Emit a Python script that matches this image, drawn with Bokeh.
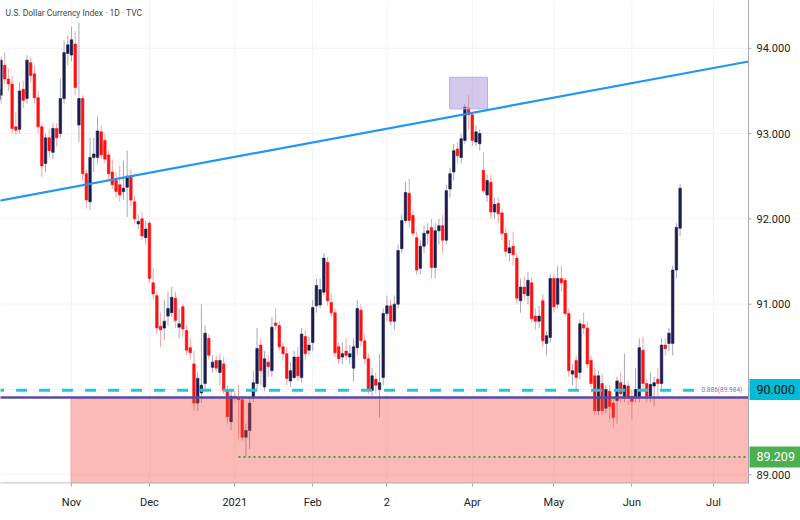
import pandas as pd
from bokeh.plotting import figure
from bokeh.models import Range1d, FixedTicker, ColumnDataSource, Label
from bokeh.core.properties import value
from bokeh.embed import file_html
from bokeh.resources import INLINE

# ---------------- data ----------------
dates = pd.bdate_range("2020-10-05", "2021-06-18")

opens = [93.40, 93.45, 93.80, 93.64, 93.58, 93.08, 93.05, 93.52, 93.41, 93.83,
         93.70, 93.42, 93.08, 92.65, 92.95, 92.78, 93.06, 93.00, 93.41, 93.94,
         93.92, 94.05, 93.10, 93.41, 92.53, 92.20, 92.72, 92.72, 93.02, 92.92,
         92.75, 92.55, 92.45, 92.40, 92.32, 92.37, 92.50, 92.20, 91.94, 92.00,
         91.78, 91.95, 91.25, 91.10, 90.74, 90.72, 90.86, 90.90, 91.07, 90.73,
         90.97, 90.69, 90.49, 90.30, 89.84, 89.96, 90.07, 90.60, 90.26, 90.34,
         90.20, 90.30, 89.98, 89.62, 89.92, 89.90, 89.88, 89.44, 89.52, 89.90,
         90.07, 90.52, 90.03, 90.32, 90.22, 90.78, 90.75, 90.50, 90.42, 90.10,
         90.14, 90.38, 90.14, 90.62, 90.46, 90.55, 90.98, 90.99, 91.14, 91.49,
         91.02, 90.90, 90.50, 90.38, 90.45, 90.38, 90.25, 90.49, 90.93, 90.57,
         90.36, 89.99, 90.12, 90.00, 90.14, 90.89, 90.98, 90.80, 91.00, 91.65,
         91.98, 92.30, 92.04, 91.78, 91.42, 91.68, 91.83, 91.90, 91.43, 91.86,
         91.92, 91.75, 92.35, 92.55, 92.82, 92.72, 92.92, 93.30, 93.22, 92.90,
         92.88, 92.57, 92.28, 92.43, 92.08, 92.18, 92.07, 91.83, 91.60, 91.68,
         91.54, 91.04, 91.20, 91.10, 91.25, 90.86, 90.80, 91.04, 90.54, 90.61,
         91.30, 91.00, 91.30, 91.28, 90.89, 90.18, 90.34, 90.20, 90.76, 90.72,
         90.34, 90.16, 89.75, 90.07, 89.78, 89.98, 89.84, 89.87, 90.08, 89.90,
         90.04, 89.92, 89.90, 89.91, 90.46, 90.07, 89.92, 90.04, 90.12, 90.07,
         90.52, 90.54, 90.54, 91.40, 91.89]

highs = [93.62, 93.90, 93.95, 93.76, 93.68, 93.25, 93.60, 93.62, 93.92, 93.90,
         93.80, 93.50, 93.12, 93.00, 93.05, 93.12, 93.12, 93.65, 94.09, 94.15,
         94.25, 94.20, 94.30, 93.45, 92.58, 92.95, 92.95, 93.20, 93.10, 93.00,
         92.80, 92.70, 92.55, 92.62, 92.68, 92.80, 92.58, 92.28, 92.05, 92.08,
         91.98, 91.98, 91.42, 91.15, 90.90, 91.05, 91.15, 91.20, 91.15, 90.95,
         91.00, 90.75, 90.60, 90.45, 90.20, 91.00, 90.75, 90.65, 90.40, 90.40,
         90.42, 90.38, 90.05, 89.98, 89.98, 90.05, 89.92, 89.60, 89.90, 90.22,
         90.72, 90.60, 90.45, 90.40, 90.85, 90.95, 90.80, 90.55, 90.50, 90.32,
         90.45, 90.50, 90.72, 90.70, 90.62, 91.05, 91.30, 91.30, 91.60, 91.55,
         91.12, 90.95, 90.55, 90.55, 90.60, 90.52, 90.60, 91.05, 91.00, 90.65,
         90.42, 90.25, 90.20, 90.42, 90.95, 91.10, 91.05, 91.10, 91.70, 92.05,
         92.43, 92.47, 92.10, 91.85, 91.75, 91.92, 91.95, 92.00, 91.95, 92.00,
         92.05, 92.40, 92.60, 92.88, 92.90, 93.00, 93.35, 93.45, 93.25, 93.10,
         93.05, 92.78, 92.52, 92.52, 92.25, 92.25, 92.12, 91.90, 91.75, 91.85,
         91.60, 91.30, 91.32, 91.38, 91.32, 90.95, 90.98, 91.12, 90.68, 91.35,
         91.35, 91.45, 91.45, 91.32, 90.95, 90.30, 90.40, 90.82, 90.90, 90.80,
         90.40, 90.25, 90.22, 90.18, 90.05, 90.05, 89.90, 90.15, 90.20, 90.42,
         90.10, 90.00, 90.25, 90.60, 90.62, 90.12, 90.20, 90.15, 90.25, 90.60,
         90.60, 90.72, 91.45, 91.95, 92.41]

lows = [93.35, 93.35, 93.58, 93.50, 93.00, 92.98, 93.00, 93.30, 93.35, 93.60,
        93.35, 93.00, 92.49, 92.55, 92.72, 92.70, 92.85, 92.95, 93.35, 93.80,
        93.85, 93.45, 92.90, 92.45, 92.12, 92.10, 92.55, 92.65, 92.70, 92.65,
        92.45, 92.35, 92.25, 92.20, 92.22, 92.02, 92.15, 91.95, 91.88, 91.75,
        91.70, 91.25, 91.05, 90.65, 90.50, 90.58, 90.75, 90.85, 90.72, 90.60,
        90.62, 90.40, 90.35, 89.75, 89.75, 89.84, 90.00, 90.35, 90.20, 90.20,
        90.05, 89.95, 89.60, 89.52, 89.85, 89.42, 89.40, 89.209, 89.30, 89.85,
        90.00, 90.05, 89.98, 90.15, 90.15, 90.70, 90.45, 90.35, 90.05, 90.03,
        90.12, 90.10, 90.08, 90.35, 90.40, 90.45, 90.90, 90.95, 91.10, 90.98,
        90.85, 90.38, 90.30, 90.30, 90.35, 90.30, 90.10, 90.40, 90.50, 90.30,
        89.95, 89.92, 89.95, 89.67, 90.05, 90.80, 90.75, 90.70, 90.95, 91.60,
        91.95, 91.90, 91.80, 91.35, 91.35, 91.60, 91.70, 91.30, 91.30, 91.70,
        91.60, 91.70, 92.25, 92.45, 92.65, 92.65, 92.88, 93.05, 92.85, 92.85,
        92.80, 92.30, 92.20, 92.00, 92.00, 91.95, 91.75, 91.55, 91.50, 91.45,
        91.00, 90.90, 91.05, 91.00, 90.78, 90.70, 90.72, 90.50, 90.40, 90.55,
        90.90, 90.95, 91.15, 90.85, 90.15, 90.05, 90.00, 90.12, 90.65, 90.25,
        90.02, 89.70, 89.70, 89.70, 89.72, 89.65, 89.55, 89.60, 89.85, 89.85,
        89.82, 89.65, 89.85, 89.85, 90.00, 89.85, 89.85, 89.80, 89.92, 90.00,
        90.40, 90.45, 90.40, 91.30, 91.80]

closes = [93.52, 93.86, 93.64, 93.58, 93.06, 93.04, 93.50, 93.39, 93.86, 93.68,
          93.42, 93.08, 92.62, 92.95, 92.80, 93.06, 92.95, 93.41, 93.95, 94.04,
          94.10, 93.54, 93.41, 92.53, 92.22, 92.72, 92.76, 93.03, 92.75, 92.70,
          92.53, 92.40, 92.32, 92.28, 92.36, 92.50, 92.22, 92.00, 91.97, 91.80,
          91.88, 91.30, 91.12, 90.72, 90.70, 90.80, 90.95, 91.08, 90.81, 90.77,
          90.71, 90.46, 90.43, 89.84, 90.13, 90.05, 90.66, 90.40, 90.32, 90.25,
          90.34, 89.99, 89.68, 89.92, 89.90, 89.88, 89.44, 89.52, 89.84, 90.08,
          90.48, 90.22, 90.36, 90.27, 90.73, 90.75, 90.50, 90.42, 90.13, 90.22,
          90.38, 90.16, 90.65, 90.42, 90.52, 90.96, 91.22, 91.17, 91.54, 91.04,
          90.90, 90.43, 90.36, 90.42, 90.40, 90.42, 90.50, 90.95, 90.57, 90.36,
          89.99, 90.16, 90.05, 90.08, 90.89, 90.98, 90.80, 91.00, 91.63, 91.98,
          92.31, 91.98, 91.83, 91.40, 91.68, 91.83, 91.86, 91.43, 91.86, 91.92,
          91.75, 92.33, 92.53, 92.80, 92.74, 92.94, 93.31, 93.22, 92.92, 93.02,
          93.00, 92.33, 92.45, 92.08, 92.17, 92.06, 91.83, 91.62, 91.66, 91.58,
          91.07, 91.20, 91.12, 91.28, 90.83, 90.80, 90.86, 90.57, 90.63, 91.30,
          90.97, 91.30, 91.25, 90.89, 90.22, 90.22, 90.14, 90.77, 90.72, 90.30,
          90.07, 89.75, 90.16, 89.75, 90.00, 89.80, 89.67, 90.10, 89.95, 90.05,
          89.90, 89.86, 90.00, 90.49, 90.07, 89.92, 90.06, 90.08, 90.07, 90.52,
          90.48, 90.66, 91.40, 91.90, 92.36]

month_labels = ["Nov", "Dec", "2021", "Feb", "2", "Apr", "May", "Jun", "Jul"]
month_starts = ["2020-11-02", "2020-12-01", "2021-01-01", "2021-02-01", "2021-03-01",
                "2021-04-01", "2021-05-03", "2021-06-01", "2021-07-01"]
price_ticks = [89, 90, 91, 92, 93, 94]

# drawn levels / annotations (prices and bar indexes)
support_level = 89.906     # purple line / top of pink zone
fib_level = 89.99          # cyan dashed
fib_text = "0.886(89.984)"
low_level = 89.209         # green dotted
zone_start = 19.7
low_start = 65
trend_gradient = 0.00808   # blue trend line, price per bar
trend_intercept = 92.209
top_box = dict(left=121.9, right=132.1, bottom=93.29, top=93.66)
last_price = 90.000
tag_prices = [last_price, low_level]
tag_texts = ["90.000", "89.209"]
tag_fill = ["#00bcd4", "#4caf50"]
tag_text_color = ["#111111", "#ffffff"]

# ---------------- figure ----------------
all_days = pd.bdate_range("2020-10-05", "2021-07-02")
tick_idx = [int(all_days.get_loc(pd.Timestamp(d))) for d in month_starts]

PXX = 3.711          # pixels per bar
PXY = 85.30          # pixels per index point
X0 = 0.867
X1 = X0 + 800 / PXX
Y1 = 94.56
Y0 = Y1 - 483 / PXY

def sx(px):
    return X0 + px / PXX

def sy(py):
    return Y1 - py / PXY

SEP = sx(748)          # price-scale separator
FONT = "Roboto"
AXC = "#a9abb3"

p = figure(width=800, height=520, x_range=Range1d(X0, X1), y_range=Range1d(Y0, Y1),
           output_backend="svg", toolbar_location=None,
           x_axis_location="below", y_axis_location=None,
           min_border_left=0, min_border_top=0, min_border_right=0, min_border_bottom=37)
p.outline_line_color = None
p.background_fill_color = "white"
p.border_fill_color = "white"
p.grid.visible = False

p.xaxis.ticker = FixedTicker(ticks=tick_idx)
p.xaxis.major_label_overrides = {t: l for t, l in zip(tick_idx, month_labels)}
p.xaxis.major_label_text_font = FONT
p.xaxis.major_label_text_font_size = "11px"
p.xaxis.major_label_text_color = "#222222"
p.xaxis.major_tick_out = 3
p.xaxis.major_tick_in = 0
p.xaxis.minor_tick_out = 0
p.xaxis.minor_tick_in = 0
p.xaxis.major_label_standoff = 9
p.xaxis.axis_line_color = None
p.xaxis.major_tick_line_color = AXC

# faint grid
p.segment(x0=tick_idx, y0=[Y0] * len(tick_idx), x1=tick_idx, y1=[Y1] * len(tick_idx),
          line_color="#f2f3f6", line_width=1)
p.segment(x0=[X0] * len(price_ticks), y0=price_ticks, x1=[SEP] * len(price_ticks), y1=price_ticks,
          line_color="#f2f3f6", line_width=1)

# ---------------- candles ----------------
idx = list(range(len(dates)))
up = [c >= o for o, c in zip(opens, closes)]

def subset(flag):
    sel = [i for i in idx if up[i] == flag]
    return ColumnDataSource(dict(
        x=sel,
        high=[highs[i] for i in sel],
        low=[lows[i] for i in sel],
        top=[max(opens[i], closes[i]) for i in sel],
        bottom=[min(opens[i], closes[i]) for i in sel],
    ))

src_up = subset(True)
src_dn = subset(False)

p.segment(x0="x", y0="low", x1="x", y1="high", source=src_up, line_color="#a6a8c4", line_width=1)
p.segment(x0="x", y0="low", x1="x", y1="high", source=src_dn, line_color="#f7a3a3", line_width=1)
p.vbar(x="x", width=0.68, top="top", bottom="bottom", source=src_up,
       fill_color="#1b1c4d", line_color="#1b1c4d", line_width=0.6)
p.vbar(x="x", width=0.68, top="top", bottom="bottom", source=src_dn,
       fill_color="#ff1010", line_color="#ff1010", line_width=0.6)

# ---------------- drawings ----------------
p.quad(left=[zone_start], right=[SEP], bottom=[Y0 - 1], top=[support_level],
       fill_color="#f44336", fill_alpha=0.37, line_color=None)
p.quad(left=[top_box["left"]], right=[top_box["right"]],
       bottom=[top_box["bottom"]], top=[top_box["top"]],
       fill_color="#9c88d8", fill_alpha=0.45, line_color="#b9aee0", line_width=1)
tx = [X0 - 1, SEP]
p.line(x=tx, y=[trend_intercept + trend_gradient * v for v in tx],
       line_color="#2196f3", line_width=2.2)
p.segment(x0=[X0 - 1], y0=[support_level], x1=[SEP], y1=[support_level],
          line_color="#5a4ba3", line_width=2.5)
p.segment(x0=[X0 - 2], y0=[fib_level], x1=[sx(697)], y1=[fib_level],
          line_color="#26c6da", line_width=3, line_dash="11 12")
p.text(x=[sx(701)], y=[fib_level], text=[fib_text], text_font=value(FONT),
       text_font_size="6.5px", text_color="#7b74b0", text_baseline="middle")
p.segment(x0=[low_start], y0=[low_level], x1=[SEP], y1=[low_level],
          line_color="#43a047", line_width=2, line_dash="2 3")

# ---------------- price scale ----------------
AXY = sy(482.5)
p.segment(x0=[X0 - 1], y0=[AXY], x1=[SEP], y1=[AXY], line_color=AXC, line_width=1)
p.segment(x0=[SEP], y0=[Y0 - 1], x1=[SEP], y1=[Y1 + 1], line_color=AXC, line_width=1)
scale = ColumnDataSource(dict(y=price_ticks, text=["%.3f" % t for t in price_ticks]))
p.segment(x0=SEP, y0="y", x1=sx(751), y1="y", source=scale, line_color=AXC, line_width=1)
p.text(x=sx(756), y="y", text="text", source=scale, text_font=value(FONT),
       text_font_size="11px", text_color="#222222", text_baseline="middle")

tags = ColumnDataSource(dict(y=tag_prices, text=tag_texts, fill=tag_fill, color=tag_text_color,
                             top=[v + 10.5 / PXY for v in tag_prices],
                             bottom=[v - 10.5 / PXY for v in tag_prices]))
p.quad(left=sx(749), right=X1 + 1, top="top", bottom="bottom", source=tags,
       fill_color="fill", line_color=None)
p.text(x=sx(756), y="y", text="text", source=tags, text_color="color",
       text_font=value(FONT), text_font_size="12.5px", text_baseline="middle")

# title
p.add_layout(Label(x=sx(5), y=sy(12), text="U.S. Dollar Currency Index \u00b7 1D \u00b7 TVC",
                   text_font=FONT, text_font_size="8.5px", text_color="#444444",
                   text_baseline="middle"))

open("out.html", "w").write(file_html(p, INLINE))
